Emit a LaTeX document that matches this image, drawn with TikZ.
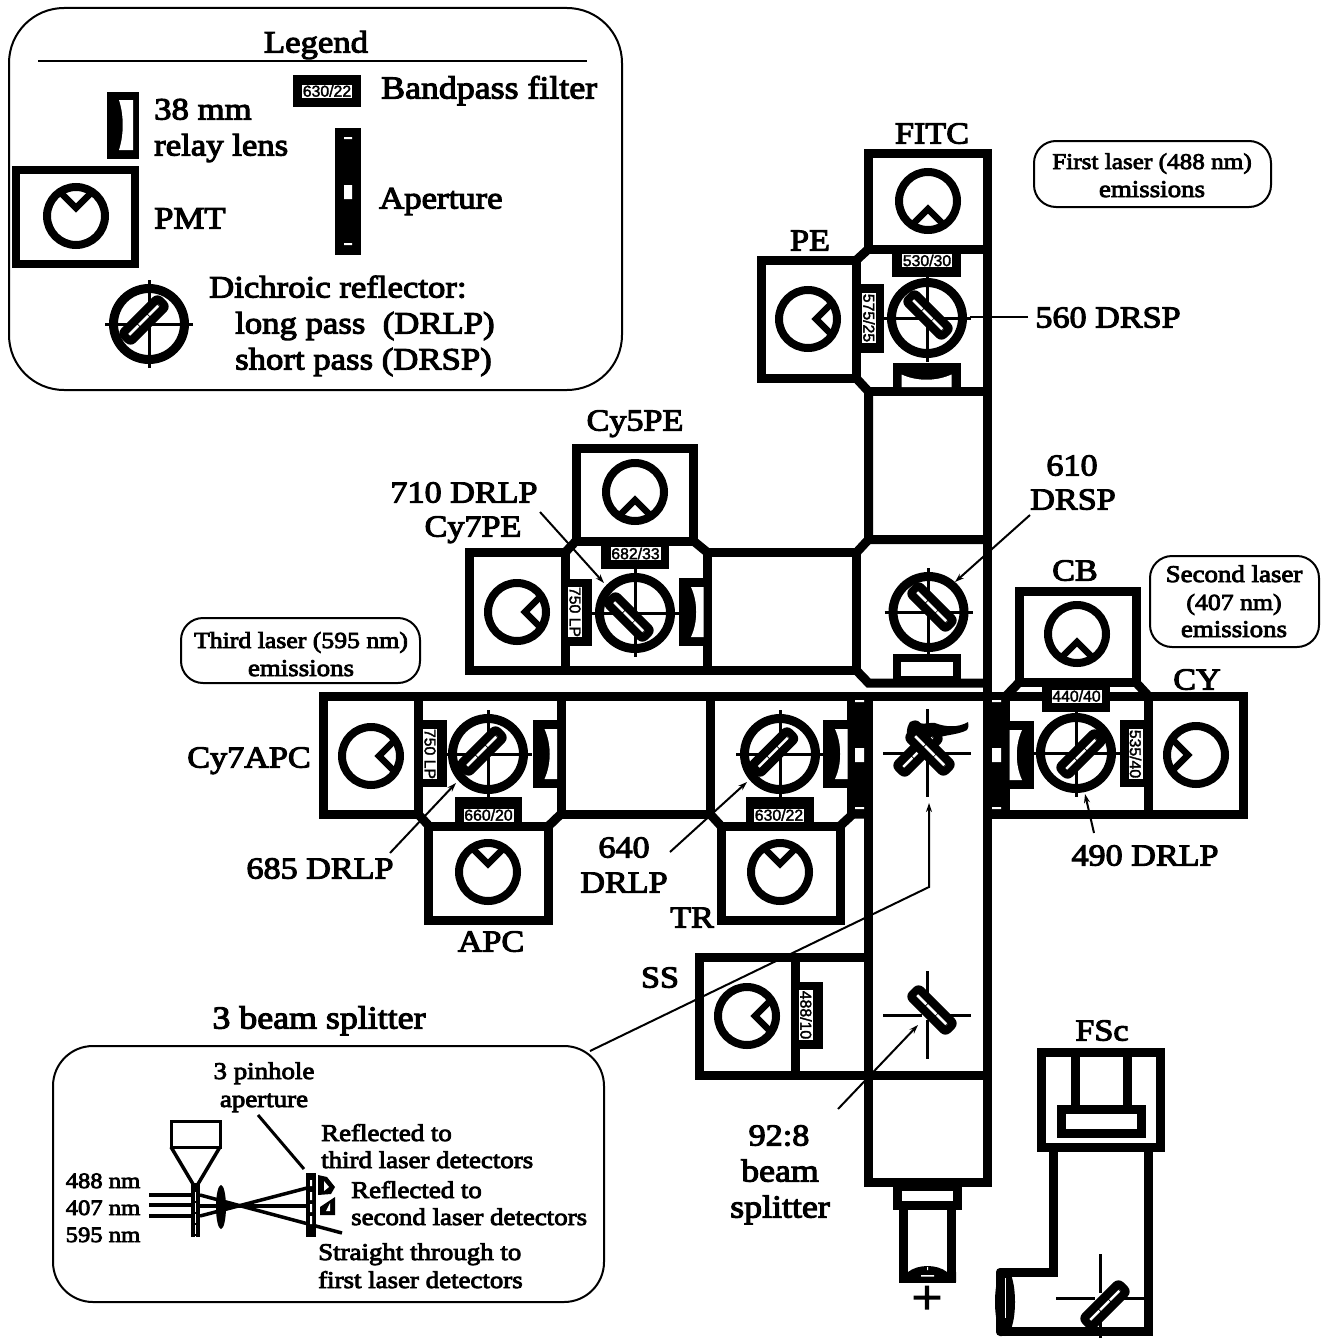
\documentclass[tikz,border=0pt]{standalone}
\usepackage{fontspec}
\usetikzlibrary{arrows.meta}
\setmainfont{Liberation Serif}[FakeStretch=1.12]
\newfontfamily\bfam{Liberation Serif}[FakeStretch=1.12,FakeBold=3.5]
\setsansfont{Liberation Sans}[FakeBold=2]
\tikzset{
  lab/.style={font=\bfam\fontsize{30.5}{32}\selectfont,inner sep=0pt,text height=21pt,text depth=0pt},
  lab32/.style={font=\bfam\fontsize{32}{32}\selectfont,inner sep=0pt,text height=21pt,text depth=0pt},
  labl/.style={font=\bfam\fontsize{31}{32}\selectfont,inner sep=0pt,text height=21pt,text depth=0pt,anchor=west},
  sml/.style={font=\bfam\fontsize{24}{24}\selectfont,inner sep=0pt,text height=16pt,text depth=0pt},
  smlb/.style={font=\bfam\fontsize{23}{24}\selectfont,inner sep=0pt,text height=16pt,text depth=0pt},
  smll/.style={sml,anchor=west},
  flt/.style={fill=white,inner sep=0pt,font=\sffamily\fontsize{15.8}{16}\selectfont,minimum width=50pt,minimum height=13pt},
  wall/.style={line width=9pt,line join=miter,line cap=butt},
  panel/.style={line width=2pt,rounded corners=#1},
  leader/.style={line width=2pt,-{Stealth[length=9pt,width=6pt]}},
  plainlead/.style={line width=2pt},
  pics/pmtc/.style={code={
    \draw[line width=8pt] (0,0) circle (29);
    \draw[line width=6.5pt,line join=miter] (24.1,16.1) -- (8,0) -- (24.1,-16.1);
  }},
  pics/ring/.style={code={
    \draw[line width=9pt] (0,0) circle (35.5);
    \draw[line width=3pt] (-44,0) -- (44,0) (0,-44) -- (0,44);
  }},
  pics/cross/.style={code={
    \draw[line width=3pt] (-44,0) -- (-5,0) (5,0) -- (44,0) (0,-44) -- (0,-5) (0,5) -- (0,44);
  }},
  pics/mirror/.style={code={
    \fill[rounded corners=7pt] (-29,-10) rectangle (29,10);
    \draw[white,line width=2.5pt,dash pattern=on 13pt off 1pt] (-21,0) -- (21,0);
  }},
  pics/lens/.style={code={
    \fill (-12,-34) rectangle (12,34);
    \fill[white] (12.5,-25) -- (0,-25) .. controls (7,-10) and (7,10) .. (0,25) -- (12.5,25) -- cycle;
  }}
}
\begin{document}
\begin{tikzpicture}[x=1pt,y=-1pt]
\useasboundingbox (0,0) rectangle (1321,1338);
\fill[white] (0,0) rectangle (1321,1338);

% ---------- Legend ----------
\draw[panel=55pt] (9,8) rectangle (622,390);
\node[labl,anchor=center] (tlegend) at (316,42) {Legend};
\draw[line width=2pt] (38,61) -- (587,61);
\fill (293,75) rectangle (361,107);
\node[flt] (flegend) at (327,91) {630/22};
\node[lab32,anchor=west] (tband) at (381,88) {Bandpass filter};
\fill (107,92) rectangle (139,159);
\fill[white] (119,100) .. controls (124,115) and (124,135) .. (119,150) -- (133,150) -- (133,100) -- cycle;
\node[labl] (t38) at (154,109) {38 mm};
\node[labl] (trelay) at (154,145) {relay lens};
\draw[wall,line width=8pt] (16,170) rectangle (135,264);
\pic[rotate=90] at (76,216) {pmtc};
\node[labl] (tpmt) at (154,218) {PMT};
\fill (335,128) rectangle (361,255);
\fill[white] (344,137) rectangle (352,139) (344,185) rectangle (352,199) (344,243) rectangle (352,245);
\node[labl] (tap) at (379,198) {Aperture};
\pic at (149,324) {ring};
\pic[rotate=45] at (144,320) {mirror};
\node[labl] (tdi) at (209,287) {Dichroic reflector:};
\node[labl] (tlong) at (235,323) {long pass\ \ (DRLP)};
\node[labl] (tshort) at (235,359) {short pass (DRSP)};

% ---------- Main tube walls ----------
\draw[wall] (868.5,153.5) rectangle (987.5,249);
\draw[wall] (761.5,260) rectangle (856.5,378.5);
\draw[wall] (987.5,150) -- (987.5,1186);
\draw[wall] (868.5,249) -- (856.5,260);
\draw[wall] (856.5,378.5) -- (868.5,391.5) -- (868.5,540);
\draw[wall] (868.5,391.5) -- (987.5,391.5);
\draw[wall] (856.5,552.5) -- (868.5,539.5) -- (987.5,539.5);
\draw[wall] (707.5,552.5) rectangle (856.5,670.5);
\draw[wall] (856.5,670.5) -- (868.5,683) -- (987.5,683);
\draw[wall] (469.5,552) rectangle (565.5,670.5);
\draw[wall] (565.5,670.5) -- (707.5,670.5);
\draw[wall] (576,448.5) rectangle (693.5,541);
\draw[wall] (565.5,552) -- (576,541);
\draw[wall] (693.5,541) -- (707.5,552.5);
\draw[wall] (323.5,696) -- (1243,696);
\draw[wall] (323.5,696) rectangle (418.5,814.5);
\draw[wall] (561,696) -- (561,814);
\draw[wall] (710,696) -- (710,814);
\draw[wall] (561,814) -- (710,814);
\draw[wall] (418.5,814.5) -- (429,826);
\draw[wall] (428.5,826) rectangle (548.5,920.5);
\draw[wall] (548.5,826) -- (561,814);
\draw[wall] (710,814) -- (721,826);
\draw[wall] (721,826) rectangle (840,920.5);
\draw[wall] (840,826) -- (853,814) -- (868,814);
\draw[wall] (868.5,696) -- (868.5,1186);
\draw[wall] (987.5,814.5) -- (1243,814.5);
\draw[wall] (1019,591) rectangle (1136,682.5);
\draw[wall] (1006,696) -- (1019,682.5);
\draw[wall] (1136,682.5) -- (1148.5,696);
\draw[wall] (1148.5,696) rectangle (1243,814.5);
\draw[wall] (699.5,957) rectangle (868,1075);
\draw[wall] (795,957) -- (795,1075);
\draw[wall] (868,1075) -- (987.5,1075);
\draw[wall] (864,1182) -- (992,1182);
\draw[wall] (897.5,1186) rectangle (957.5,1205);
\draw[wall] (903.5,1205) -- (903.5,1278) -- (951.5,1278) -- (951.5,1205);
\fill (899,1282) -- (899,1272) -- (908,1272) .. controls (918,1264) and (937,1264) .. (947,1272) -- (956,1272) -- (956,1282) -- cycle;
\fill[white] (921,1275) rectangle (934,1276.5) (927,1267) rectangle (928,1270);

% Apertures between the tube and the side channels
\fill (847,692) rectangle (873,818);
\fill[white] (855,700) rectangle (864,702) (855,748) rectangle (864,762) (855,807) rectangle (864,809);
\fill (983,692) rectangle (1010,818);
\fill[white] (992,700) rectangle (1001,702) (992,748) rectangle (1001,762) (992,807) rectangle (1001,809);

% ---------- PMTs ----------
\pic[rotate=-90] at (928,201) {pmtc};
\pic at (808,319) {pmtc};
\pic[rotate=-90] at (635,492) {pmtc};
\pic at (517,612) {pmtc};
\pic at (371,756) {pmtc};
\pic[rotate=90] at (488,872) {pmtc};
\pic[rotate=90] at (780,872) {pmtc};
\pic[rotate=-90] at (1077,634) {pmtc};
\pic[rotate=180] at (1196,755) {pmtc};
\pic at (747,1016) {pmtc};

% ---------- Filters ----------
\fill (892,253) rectangle (961,277);
\node[flt] (f530) at (927,260.5) {530/30};
\fill (861,284) rectangle (884,353);
\node[flt,rotate=-90,minimum height=14pt] (f575) at (869,318) {575/25};
\fill (601,545) rectangle (669,569);
\node[flt] (f682) at (635.5,553.5) {682/33};
\fill (561,579) rectangle (592,646);
\node[flt,rotate=-90,minimum height=14pt] (f750a) at (575,612) {750 LP};
\fill (423,720) rectangle (447,787);
\node[flt,rotate=-90,minimum height=14pt] (f750b) at (430,754) {750 LP};
\fill (455,797) rectangle (522,824);
\node[flt] (f660) at (488.5,815) {660/20};
\fill (746,797) rectangle (814,824);
\node[flt] (f630) at (779,815) {630/22};
\fill (1042,687) rectangle (1110,712);
\node[flt] (f440) at (1076.5,696) {440/40};
\fill (1120,720) rectangle (1144,787);
\node[flt,rotate=-90,minimum height=14pt] (f535) at (1135.5,754) {535/40};
\fill (799,982) rectangle (823,1049);
\node[flt,rotate=-90,minimum height=14pt] (f488) at (806,1015) {488/10};

% ---------- Lenses ----------
\pic[rotate=-90] at (926.5,374.5) {lens};
\pic at (691,612) {lens};
\pic at (544.5,754) {lens};
\pic at (835,754) {lens};
\pic[rotate=180] at (1022,755) {lens};
\draw[wall,line width=8pt] (897,657.5) rectangle (957,680);

% ---------- Dichroic reflectors ----------
\pic at (927,318) {ring};
\pic[rotate=-45] at (928,315) {mirror};
\pic at (635,613) {ring};
\pic[rotate=-45] at (629,617) {mirror};
\pic at (928.5,612) {ring};
\pic[rotate=-45] at (932,607) {mirror};
\pic at (488,754) {ring};
\pic[rotate=45] at (482,751) {mirror};
\pic at (780,754) {ring};
\pic[rotate=45] at (773.5,752) {mirror};
\pic at (1076,753) {ring};
\pic[rotate=45] at (1081,754) {mirror};

% Centre: crossed mirrors
\pic at (927,753) {cross};
\fill (910,722) .. controls (914,720) and (917,720) .. (918,721) .. controls (920,726) and (930,722) .. (935,723)
  .. controls (945,727) and (958,728) .. (968,722) .. controls (969,726) and (968,729) .. (967,730)
  .. controls (960,734) and (947,735) .. (940,737) -- (927,747) -- (907,737) .. controls (906,730) and (908,725) .. (910,722) -- cycle;
\pic[rotate=45] at (918,752) {mirror};
\pic[rotate=-45] at (930,751) {mirror};

% 92:8
\pic at (927,1015) {cross};
\pic[rotate=-45] at (932,1010) {mirror};

% ---------- FSc ----------
\draw[wall] (1041.5,1052.5) rectangle (1160,1147.5);
\draw[wall] (1075,1052.5) -- (1075,1105);
\draw[wall] (1127.5,1052.5) -- (1127.5,1105);
\draw[wall] (1061.5,1109.5) rectangle (1141,1133.5);
\draw[wall] (1053.5,1147.5) -- (1053.5,1272.5) -- (1000,1272.5);
\draw[wall] (1148.5,1147.5) -- (1148.5,1331.5) -- (1000,1331.5);
\fill[rounded corners=4pt] (996,1268) rectangle (1006,1336);
\fill (1005,1302) ellipse [x radius=10,y radius=34];
\draw[white,line width=1pt] (1005,1278) -- (1005,1318);
\pic at (1100,1298) {cross};
\pic[rotate=45] at (1105,1305) {mirror};

% ---------- Rounded notes ----------
\draw[panel=22pt] (1034,141) rectangle (1271,207);
\node[smlb,font=\bfam\fontsize{22.5}{24}\selectfont] (n1a) at (1152,161) {First laser (488 nm)};
\node[sml] (n1b) at (1152,189) {emissions};
\draw[panel=22pt] (1150,556) rectangle (1319,647);
\node[sml] (n2a) at (1234,574) {Second laser};
\node[smlb] (n2b) at (1234,602) {(407 nm)};
\node[sml] (n2c) at (1234,629) {emissions};
\draw[panel=22pt] (181,618) rectangle (420,683);
\node[smlb] (n3a) at (301,640) {Third laser (595 nm)};
\node[sml] (n3b) at (301,668) {emissions};

% ---------- Labels ----------
\node[lab] (lFITC) at (932,133) {FITC};
\node[lab] (lPE) at (810,240) {PE};
\node[lab] (lCy5) at (635,420) {Cy5PE};
\node[lab] (l710) at (464,492) {710 DRLP};
\node[lab] (lCy7) at (473,526) {Cy7PE};
\node[lab] (l610a) at (1072,465) {610};
\node[lab] (l610b) at (1073,499) {DRSP};
\node[lab] (lCB) at (1075,570) {CB};
\node[lab] (lCY) at (1197,679) {CY};
\node[lab] (lCyA) at (249,757) {Cy7APC};
\node[lab] (l685) at (320,868) {685 DRLP};
\node[lab] (l640a) at (624,847) {640};
\node[lab] (l640b) at (624,882) {DRLP};
\node[lab] (lTR) at (692,917) {TR};
\node[lab] (lAPC) at (491,941) {APC};
\node[lab] (l490) at (1145,855) {490 DRLP};
\node[lab] (lSS) at (660,977) {SS};
\node[lab] (lFSc) at (1102,1030) {FSc};
\node[lab] (l560) at (1108,317) {560 DRSP};
\node[lab] (l92a) at (779,1135) {92:8};
\node[lab32] (l92b) at (780,1171) {beam};
\node[lab32] (l92c) at (780,1207) {splitter};
\node[lab32] (l3b) at (319,1018) {3 beam splitter};
\node[font=\bfam\fontsize{48}{48}\selectfont,inner sep=0pt] (plus) at (927,1300) {+};

% ---------- Leaders ----------
\coordinate (a560) at (970,317);
\coordinate (s560) at (1028,317);
\draw[plainlead] (s560) -- (a560);
\coordinate (s610) at (1030,515); \coordinate (a610) at (955,582);
\draw[leader] (s610) -- (a610);
\coordinate (s710) at (540,512); \coordinate (a710) at (604,583);
\draw[leader] (s710) -- (a710);
\coordinate (s685) at (390,853); \coordinate (a685) at (456,783);
\draw[leader] (s685) -- (a685);
\coordinate (s640) at (670,852); \coordinate (a640) at (747,782);
\draw[leader] (s640) -- (a640);
\coordinate (s490) at (1094,833); \coordinate (a490) at (1085,794);
\draw[leader] (s490) -- (a490);
\coordinate (s92) at (838,1109); \coordinate (a92) at (918,1025);
\draw[leader] (s92) -- (a92);
\coordinate (sbs) at (590,1051); \coordinate (kbs) at (929,887); \coordinate (abs) at (929,803);
\draw[leader] (sbs) -- (kbs) -- (abs);

% ---------- 3 beam splitter inset ----------
\draw[panel=40pt] (53,1046) rectangle (604,1302);
\node[sml] (i1a) at (264,1071) {3 pinhole};
\node[sml] (i1b) at (264,1099) {aperture};
\node[smll] (i2a) at (321,1133) {Reflected to};
\node[smll] (i2b) at (321,1160) {third laser detectors};
\node[smll] (i3a) at (351,1190) {Reflected to};
\node[smll] (i3b) at (351,1217) {second laser detectors};
\node[smll] (i4a) at (318,1252) {Straight through to};
\node[smll] (i4b) at (318,1280) {first laser detectors};
\node[smlb,font=\bfam\fontsize{22}{24}\selectfont] (w488) at (103,1180) {488 nm};
\node[smlb,font=\bfam\fontsize{22}{24}\selectfont] (w407) at (103,1207) {407 nm};
\node[smlb,font=\bfam\fontsize{22}{24}\selectfont] (w595) at (103,1234) {595 nm};
\coordinate (pin1) at (258,1115); \coordinate (pin2) at (304,1169);
\draw[line width=3pt] (pin1) -- (pin2);
\draw[line width=3pt] (171,1121) rectangle (220,1147);
\draw[line width=3.5pt] (171,1147) -- (193,1184) (220,1147) -- (198,1184);
\draw[line width=4pt] (149,1195) -- (191,1195) (149,1205) -- (191,1205) (149,1216) -- (191,1216);
\draw[line width=3.5pt] (200,1195) -- (342,1233);
\draw[line width=3.5pt] (200,1216) -- (307,1188);
\draw[line width=3.5pt] (200,1206) -- (307,1206);
\fill (191,1183) rectangle (200,1237);
\draw[white,line width=1pt,dash pattern=on 9pt off 2pt] (195.5,1192) -- (195.5,1237);
\fill (221,1207) ellipse [x radius=5,y radius=22];
\fill (306,1173) rectangle (316,1237);
\fill[white] (310,1180) rectangle (312,1186) (310,1192) rectangle (312,1200) (310,1204) rectangle (312,1212) (310,1216) rectangle (312,1224);
\fill (318,1175) -- (327,1177) -- (335,1187) -- (331,1194) -- (318,1195) -- cycle;
\fill[white] (324,1181) -- (329,1187) -- (324,1191) -- cycle;
\fill (335,1197) -- (335,1215) -- (320,1215) -- (320,1207) -- cycle;
\fill[white] (330,1203) -- (330,1211) -- (326,1211) -- cycle;
\end{tikzpicture}
\end{document}
